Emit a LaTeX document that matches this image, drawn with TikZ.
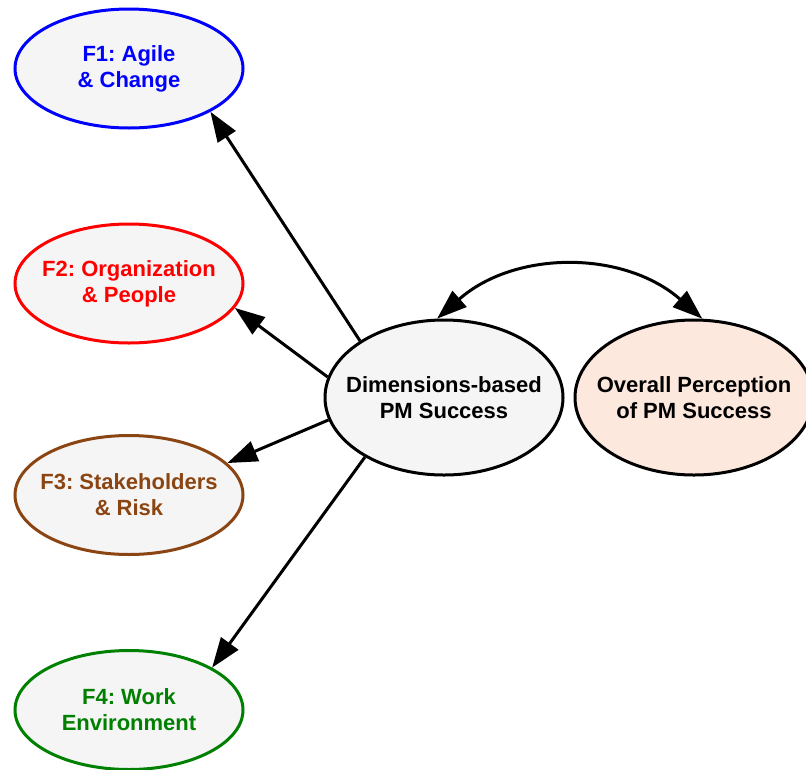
\documentclass[tikz,border=0pt]{standalone}
\usepackage{fontspec}
\setmainfont{Liberation Sans}
\usetikzlibrary{arrows.meta,shapes.geometric}
\frenchspacing
\definecolor{fillgray}{HTML}{F5F5F5}
\definecolor{peach}{HTML}{FDE8DE}
\definecolor{fblue}{HTML}{0000FF}
\definecolor{fred}{HTML}{FF0000}
\definecolor{fbrown}{HTML}{8B4513}
\definecolor{fgreen}{HTML}{008000}
\newcommand{\ctrline}[1]{\makebox[0pt]{#1}}
\begin{document}
\begin{tikzpicture}[x=1pt,y=-1pt,
  lbl/.style={font=\bfseries\fontsize{22}{26}\selectfont, align=center},
  factor/.style={ellipse, draw=#1, text=#1, fill=fillgray, line width=3pt,
    minimum width=228pt, minimum height=119pt, inner sep=0pt, lbl},
  core/.style={ellipse, draw=black, line width=3pt,
    minimum width=238pt, minimum height=155pt, inner sep=0pt, lbl},
  edge/.style={line width=3pt, -{Triangle[length=30pt,width=21pt]}},
  bidir/.style={line width=3pt, {Triangle[length=30pt,width=21pt]}-{Triangle[length=30pt,width=21pt]}},
]
\useasboundingbox (0,0) rectangle (806,769);
\fill[white] (0,0) rectangle (806,769);

\node[factor=fblue]  (f1) at (129,68.5)  {\ctrline{F1: Agile}\\\ctrline{\& Change}};
\node[factor=fred]   (f2) at (129,283.5) {\ctrline{F2: Organization}\\\ctrline{\& People}};
\node[factor=fbrown] (f3) at (129,495)   {\ctrline{F3: Stakeholders}\\\ctrline{\& Risk}};
\node[factor=fgreen] (f4) at (129,710)   {\ctrline{F4: Work}\\\ctrline{Environment}};

\node[core, fill=fillgray] (dim) at (444,397.5) {\ctrline{Dimensions-based}\\\ctrline{PM Success}};
\node[core, fill=peach]    (ovr) at (694,397.5) {\ctrline{Overall Perception}\\\ctrline{of PM Success}};

\draw[edge] (dim.146.4) -- (f1.-28.8);
\draw[edge] (dim.170.6) -- (f2.-13.6);
\draw[edge] (dim.191) -- (f3.18.3);
\draw[edge] (dim.217) -- (f4.27.2);

\draw[bidir] (dim.95.2) .. controls (515,250) and (624,250) .. (ovr.84.2);
\end{tikzpicture}
\end{document}
